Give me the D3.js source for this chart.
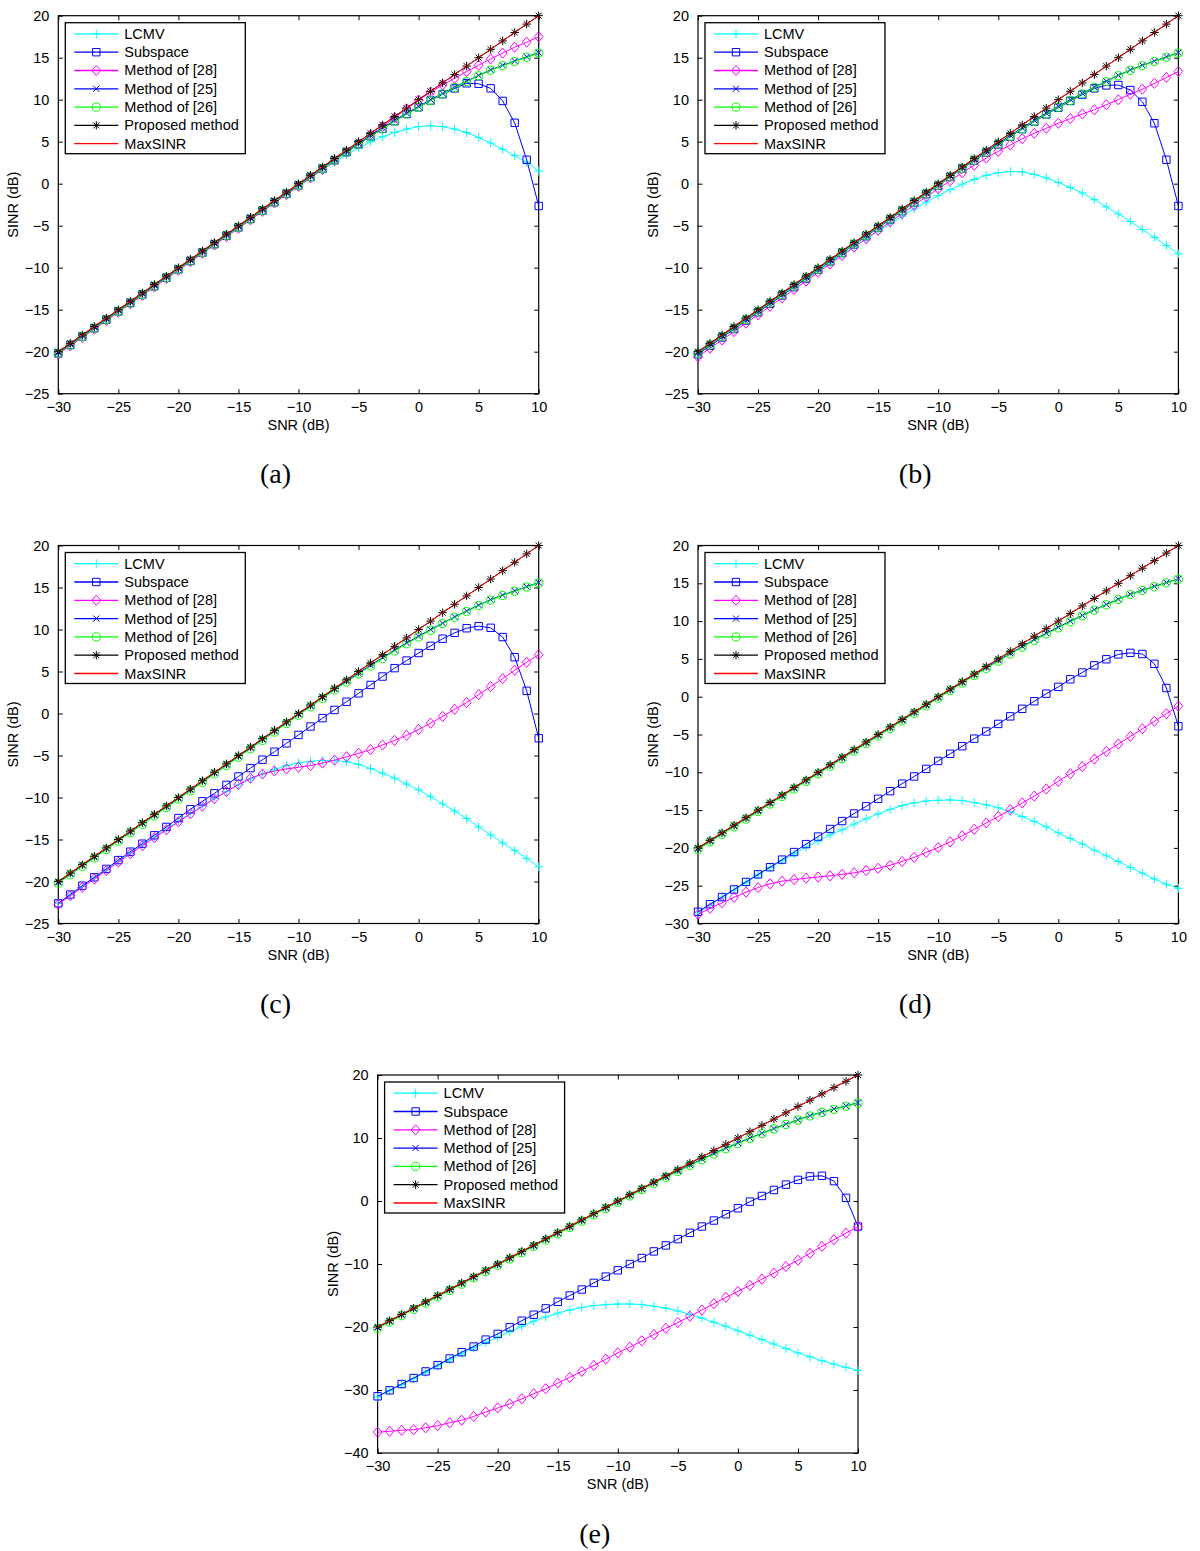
<!DOCTYPE html>
<html>
<head>
<meta charset="utf-8">
<script src="https://cdn.jsdelivr.net/npm/d3@7"></script>
<style>
  html, body { margin: 0; padding: 0; background: #fff; }
  svg { display: block; }
  text { font-family: "Liberation Sans", Arial, Helvetica, sans-serif; }
</style>
</head>
<body>
<svg id="chart" width="1200" height="1551"></svg>
<script>
// ---------------- DATA ----------------
const snr = [-30,-29,-28,-27,-26,-25,-24,-23,-22,-21,-20,-19,-18,-17,-16,-15,-14,-13,-12,-11,-10,-9,-8,-7,-6,-5,-4,-3,-2,-1,0,1,2,3,4,5,6,7,8,9,10];
const xTicks = [-30,-25,-20,-15,-10,-5,0,5,10];
const yTicks25 = [-25,-20,-15,-10,-5,0,5,10,15,20];
const yTicks30 = [-30,-25,-20,-15,-10,-5,0,5,10,15,20];
const yTicks40 = [-40,-30,-20,-10,0,10,20];
const seriesNames = ["LCMV","Subspace","Method of [28]","Method of [25]","Method of [26]","Proposed method","MaxSINR"];
const captions = ["(a)","(b)","(c)","(d)","(e)"];

// shared curves (same in all five panels)
const maxSinr  = [-20,-19,-18,-17,-16,-15,-14,-13,-12,-11,-10,-9,-8,-7,-6,-5,-4,-3,-2,-1,0,1,2,3,4,5,6,7,8,9,10,11,12,13,14,15,16,17,18,19,20];
const proposed = [-20,-19,-18,-17,-16,-15,-14,-13,-12,-11,-10,-9,-8,-7,-6,-5,-4,-3,-2,-1,0,1,2,3,4,5,6,7,8,9,10,11,12,13,14,15,16,17,18,19,20];
const method25 = [-20.1,-19.1,-18.1,-17.1,-16.1,-15.1,-14.1,-13.1,-12.1,-11.1,-10.1,-9.1,-8.1,-7.1,-6.1,-5.1,-4.1,-3.1,-2.1,-1.1,-0.1,0.9,1.9,2.9,3.85,4.8,5.75,6.65,7.55,8.4,9.2,10.0,10.75,11.5,12.2,12.9,13.55,14.1,14.6,15.1,15.6];
const method26 = [-20.2,-19.2,-18.2,-17.2,-16.2,-15.2,-14.2,-13.2,-12.2,-11.2,-10.2,-9.2,-8.2,-7.2,-6.2,-5.2,-4.2,-3.2,-2.2,-1.2,-0.2,0.8,1.8,2.8,3.75,4.7,5.65,6.55,7.45,8.3,9.1,9.9,10.7,11.45,12.15,12.85,13.5,14.05,14.55,15.05,15.55];

// panel (a)
const lcmvA     = [-20.2,-19.2,-18.2,-17.2,-16.2,-15.2,-14.2,-13.2,-12.2,-11.2,-10.2,-9.2,-8.2,-7.2,-6.2,-5.2,-4.2,-3.2,-2.25,-1.25,-0.3,0.7,1.65,2.55,3.45,4.25,5.0,5.6,6.1,6.5,6.8,6.9,6.8,6.5,6.1,5.5,4.85,4.1,3.35,2.55,1.5];
const subspaceA = [-20.2,-19.2,-18.2,-17.2,-16.2,-15.2,-14.2,-13.2,-12.2,-11.2,-10.2,-9.2,-8.2,-7.2,-6.2,-5.2,-4.2,-3.2,-2.2,-1.2,-0.2,0.8,1.8,2.8,3.75,4.7,5.65,6.55,7.45,8.3,9.1,9.9,10.65,11.35,11.95,11.9,11.35,9.85,7.25,2.85,-2.65];
const method28A = [-20.3,-19.3,-18.3,-17.3,-16.3,-15.3,-14.3,-13.3,-12.3,-11.3,-10.3,-9.3,-8.3,-7.3,-6.3,-5.3,-4.3,-3.3,-2.3,-1.3,-0.3,0.7,1.7,2.75,3.75,4.75,5.8,6.8,7.85,8.9,9.95,10.9,11.75,12.55,13.35,14.1,14.85,15.55,16.25,16.85,17.5];

// panel (b)
const lcmvB     = [-20.3,-19.3,-18.3,-17.3,-16.3,-15.3,-14.3,-13.35,-12.35,-11.35,-10.4,-9.4,-8.45,-7.5,-6.55,-5.65,-4.75,-3.85,-3.0,-2.2,-1.4,-0.7,-0.05,0.5,1.0,1.3,1.45,1.4,1.1,0.7,0.15,-0.45,-1.1,-1.9,-2.75,-3.6,-4.5,-5.45,-6.4,-7.35,-8.35];
const subspaceB = [-20.3,-19.3,-18.3,-17.3,-16.3,-15.3,-14.3,-13.3,-12.3,-11.3,-10.25,-9.25,-8.25,-7.25,-6.25,-5.25,-4.25,-3.25,-2.25,-1.25,-0.25,0.8,1.8,2.75,3.7,4.65,5.6,6.5,7.4,8.25,9.05,9.85,10.6,11.35,11.7,11.75,11.15,9.75,7.2,2.85,-2.65];
const method28B = [-20.6,-19.6,-18.6,-17.6,-16.6,-15.6,-14.6,-13.6,-12.6,-11.6,-10.55,-9.55,-8.55,-7.55,-6.55,-5.55,-4.55,-3.55,-2.55,-1.55,-0.6,0.35,1.3,2.2,3.05,3.85,4.6,5.35,6.0,6.6,7.2,7.75,8.3,8.8,9.4,10.0,10.65,11.25,11.95,12.65,13.35];

// panel (c)
const lcmvC     = [-22.6,-21.6,-20.6,-19.6,-18.6,-17.6,-16.6,-15.65,-14.7,-13.75,-12.8,-11.9,-11.0,-10.1,-9.3,-8.5,-7.8,-7.2,-6.65,-6.2,-5.9,-5.7,-5.6,-5.6,-5.75,-6.05,-6.55,-7.1,-7.7,-8.4,-9.1,-9.9,-10.75,-11.6,-12.5,-13.5,-14.45,-15.4,-16.3,-17.25,-18.25];
const subspaceC = [-22.6,-21.55,-20.5,-19.5,-18.5,-17.45,-16.45,-15.5,-14.5,-13.5,-12.45,-11.4,-10.45,-9.5,-8.5,-7.5,-6.5,-5.5,-4.55,-3.55,-2.55,-1.55,-0.55,0.42,1.4,2.4,3.4,4.4,5.4,6.3,7.2,8.05,8.9,9.6,10.15,10.4,10.2,9.1,6.7,2.7,-2.95];
const method28C = [-22.7,-21.7,-20.7,-19.7,-18.7,-17.7,-16.7,-15.75,-14.8,-13.85,-12.9,-11.95,-11.05,-10.15,-9.3,-8.45,-7.7,-7.2,-6.85,-6.6,-6.4,-6.2,-5.9,-5.55,-5.15,-4.75,-4.3,-3.75,-3.2,-2.6,-1.9,-1.15,-0.35,0.5,1.3,2.25,3.2,4.15,5.15,6.1,7.0];

// panel (d)
const lcmvD     = [-28.6,-27.6,-26.6,-25.6,-24.6,-23.6,-22.6,-21.7,-20.8,-19.9,-19.1,-18.3,-17.6,-16.85,-16.15,-15.5,-14.9,-14.4,-14.05,-13.8,-13.7,-13.65,-13.75,-14.0,-14.3,-14.7,-15.2,-15.85,-16.5,-17.2,-18.0,-18.75,-19.5,-20.3,-21.05,-21.8,-22.6,-23.35,-24.1,-24.8,-25.35];
const subspaceD = [-28.45,-27.45,-26.5,-25.5,-24.5,-23.5,-22.55,-21.55,-20.55,-19.5,-18.5,-17.5,-16.45,-15.45,-14.5,-13.5,-12.5,-11.5,-10.55,-9.55,-8.5,-7.55,-6.55,-5.55,-4.6,-3.6,-2.6,-1.6,-0.6,0.4,1.3,2.3,3.2,4.15,4.95,5.6,5.8,5.65,4.35,1.15,-3.9];
const method28D = [-28.8,-28.0,-27.25,-26.55,-25.85,-25.25,-24.75,-24.4,-24.2,-24.0,-23.85,-23.7,-23.5,-23.3,-23.0,-22.7,-22.3,-21.8,-21.25,-20.6,-19.95,-19.2,-18.4,-17.55,-16.7,-15.85,-14.95,-14.05,-13.15,-12.2,-11.2,-10.2,-9.25,-8.25,-7.25,-6.25,-5.25,-4.25,-3.25,-2.25,-1.25];

// panel (e)
const lcmvE     = [-31.1,-30.1,-29.15,-28.2,-27.2,-26.2,-25.2,-24.25,-23.3,-22.45,-21.6,-20.75,-19.9,-19.1,-18.4,-17.8,-17.3,-16.9,-16.6,-16.45,-16.35,-16.35,-16.45,-16.7,-17.0,-17.45,-18.0,-18.6,-19.25,-19.9,-20.6,-21.3,-22.0,-22.7,-23.4,-24.1,-24.75,-25.35,-25.9,-26.4,-26.9];
const subspaceE = [-31.0,-30.05,-29.05,-28.1,-27.05,-26.05,-25.0,-24.0,-23.1,-22.0,-21.1,-20.05,-19.0,-18.05,-17.05,-16.0,-15.0,-14.05,-13.0,-12.0,-11.0,-10.0,-9.05,-8.0,-7.05,-6.05,-5.05,-4.05,-3.1,-2.1,-1.15,-0.1,0.8,1.75,2.6,3.35,3.9,4.0,3.15,0.5,-4.05];
const method28E = [-36.7,-36.55,-36.4,-36.3,-36.0,-35.65,-35.2,-34.8,-34.2,-33.5,-32.85,-32.2,-31.4,-30.6,-29.8,-28.9,-28.0,-27.05,-26.1,-25.1,-24.1,-23.2,-22.2,-21.2,-20.2,-19.3,-18.3,-17.3,-16.3,-15.3,-14.35,-13.4,-12.4,-11.45,-10.4,-9.4,-8.3,-7.2,-6.15,-5.1,-4.1];

// ---------------- LAYOUT / STYLE ----------------
const colors  = ["#00ffff","#0000ff","#ff00ff","#0000ff","#00ff00","#000000","#ff0000"];
const markers = ["plus","square","diamond","x","circle","star",null];

const W = 480.4, H = 378;
const panels = [
  {left: 58.3,  top: 15.7,   yDomain: [-25,20], yTicks: yTicks25, lcmv: lcmvA, sub: subspaceA, m28: method28A},
  {left: 698,   top: 15.7,   yDomain: [-25,20], yTicks: yTicks25, lcmv: lcmvB, sub: subspaceB, m28: method28B},
  {left: 58.3,  top: 545.5,  yDomain: [-25,20], yTicks: yTicks25, lcmv: lcmvC, sub: subspaceC, m28: method28C},
  {left: 698,   top: 545.5,  yDomain: [-30,20], yTicks: yTicks30, lcmv: lcmvD, sub: subspaceD, m28: method28D},
  {left: 377.6, top: 1075,   yDomain: [-40,20], yTicks: yTicks40, lcmv: lcmvE, sub: subspaceE, m28: method28E}
];

const svg = d3.select("#chart");
const fmt = v => (v < 0 ? "\u2212" + Math.abs(v) : String(v));

function markerPath(type) {
  const p = d3.path();
  if (type === "plus") { const r = 4.4; p.moveTo(-r,0); p.lineTo(r,0); p.moveTo(0,-r); p.lineTo(0,r); }
  else if (type === "square") { const r = 3.7; p.rect(-r,-r,2*r,2*r); }
  else if (type === "diamond") { const rx = 4.4, ry = 5.1; p.moveTo(0,-ry); p.lineTo(rx,0); p.lineTo(0,ry); p.lineTo(-rx,0); p.closePath(); }
  else if (type === "x") { const r = 3.1; p.moveTo(-r,-r); p.lineTo(r,r); p.moveTo(-r,r); p.lineTo(r,-r); }
  else if (type === "circle") { p.arc(0,0,4.1,0,2*Math.PI); }
  else if (type === "star") { const r = 4.2, q = 3.0; p.moveTo(-r,0); p.lineTo(r,0); p.moveTo(0,-r); p.lineTo(0,r); p.moveTo(-q,-q); p.lineTo(q,q); p.moveTo(-q,q); p.lineTo(q,-q); }
  return p.toString();
}

panels.forEach((pn, idx) => {
  const g = svg.append("g").attr("transform", `translate(${pn.left},${pn.top})`);
  const x = d3.scaleLinear().domain([-30, 10]).range([0, W]);
  const y = d3.scaleLinear().domain(pn.yDomain).range([H, 0]);

  // axes with inward ticks on all four sides
  const tl = 4.5;
  const bottom = g.append("g").attr("transform", `translate(0,${H})`)
    .call(d3.axisBottom(x).tickValues(xTicks).tickSizeInner(-tl).tickSizeOuter(0).tickPadding(8).tickFormat(fmt));
  const top = g.append("g").call(d3.axisTop(x).tickValues(xTicks).tickSizeInner(-tl).tickSizeOuter(0).tickFormat(""));
  const left = g.append("g").call(d3.axisLeft(y).tickValues(pn.yTicks).tickSizeInner(-tl).tickSizeOuter(0).tickPadding(9).tickFormat(fmt));
  const right = g.append("g").attr("transform", `translate(${W},0)`)
    .call(d3.axisRight(y).tickValues(pn.yTicks).tickSizeInner(-tl).tickSizeOuter(0).tickFormat(""));
  [bottom, top, left, right].forEach(a => {
    a.select(".domain").remove();
    a.selectAll(".tick line").attr("stroke", "#000").attr("stroke-width", 1);
    a.selectAll("text").attr("fill", "#000").style("font-size", "14.5px").style("font-family", '"Liberation Sans", Arial, sans-serif');
  });
  // box
  g.append("rect").attr("x", 0).attr("y", 0).attr("width", W).attr("height", H)
    .attr("fill", "none").attr("stroke", "#000").attr("stroke-width", 1.2);

  // axis labels
  g.append("text").attr("x", W / 2).attr("y", H + 31).attr("text-anchor", "middle")
    .attr("dominant-baseline", "central").style("font-size", "14.5px").text("SNR (dB)");
  g.append("text").attr("transform", `translate(-45,${H / 2}) rotate(-90)`).attr("text-anchor", "middle")
    .attr("dominant-baseline", "central").style("font-size", "14.5px").text("SINR (dB)");
  // caption
  svg.append("text").attr("x", pn.left + W / 2 - 23).attr("y", pn.top + H + 80)
    .attr("text-anchor", "middle").attr("dominant-baseline", "central")
    .style("font-family", '"Liberation Serif", "Times New Roman", serif').style("font-size", "28px")
    .text(captions[idx]);

  // series
  const data = [pn.lcmv, pn.sub, pn.m28, method25, method26, proposed, maxSinr];
  const line = d3.line().x((d, i) => x(snr[i])).y(d => y(d));
  data.forEach((vals, si) => {
    const sg = g.append("g");
    sg.append("path").datum(vals).attr("d", line).attr("fill", "none")
      .attr("stroke", colors[si]).attr("stroke-width", 1);
    if (markers[si]) {
      const mp = markerPath(markers[si]);
      sg.selectAll("path.m").data(vals).join("path").attr("class", "m")
        .attr("transform", (d, i) => `translate(${x(snr[i])},${y(d)})`)
        .attr("d", mp).attr("fill", "none").attr("stroke", colors[si]).attr("stroke-width", 1);
    }
  });

  // legend
  const lg = g.append("g").attr("transform", "translate(7,7)");
  lg.append("rect").attr("x", 0).attr("y", 0).attr("width", 180).attr("height", 131)
    .attr("fill", "#fff").attr("stroke", "#000").attr("stroke-width", 1.3);
  seriesNames.forEach((name, si) => {
    const yy = 11.2 + si * 18.3;
    lg.append("line").attr("x1", 9).attr("x2", 53).attr("y1", yy).attr("y2", yy)
      .attr("stroke", colors[si]).attr("stroke-width", 1.3);
    if (markers[si]) {
      lg.append("path").attr("transform", `translate(31,${yy})`).attr("d", markerPath(markers[si]))
        .attr("fill", "none").attr("stroke", colors[si]).attr("stroke-width", 1);
    }
    lg.append("text").attr("x", 59).attr("y", yy).attr("dominant-baseline", "central")
      .style("font-size", "14.5px").attr("fill", "#000").text(name);
  });
});
</script>
</body>
</html>
